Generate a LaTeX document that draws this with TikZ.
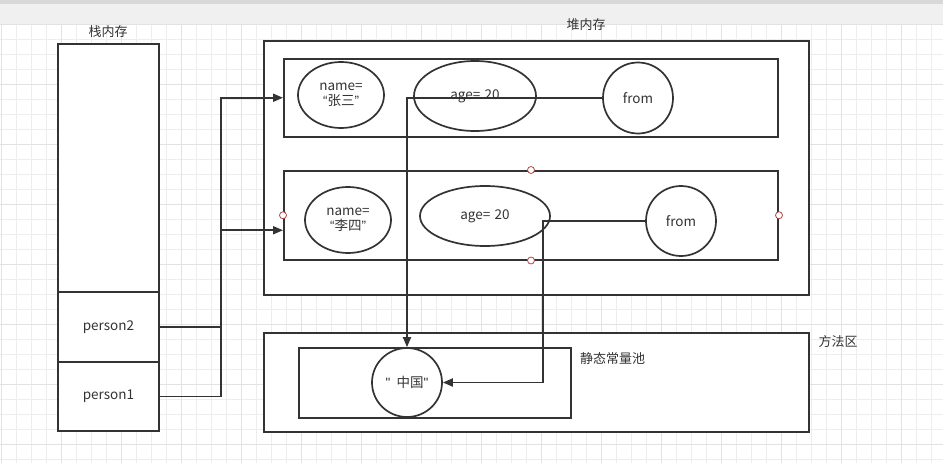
\documentclass[tikz,border=0pt]{standalone}
\usepackage{fontspec}
\setmainfont{Noto Sans CJK SC}
\newfontfamily\latf{Liberation Sans}
\usetikzlibrary{arrows.meta,shapes.geometric}
\definecolor{ln}{HTML}{333333}
\definecolor{gridminor}{HTML}{EDEDED}
\definecolor{gridmajor}{HTML}{E2E2E2}
\definecolor{handlec}{HTML}{B04848}
\begin{document}
\begin{tikzpicture}[x=1pt,y=-1pt,
  box/.style={draw=ln, line width=2pt, fill=white, inner sep=0pt, text=ln, font=\fontsize{13.5}{15}\selectfont},
  oval/.style={ellipse, draw=ln, line width=1.7pt, fill=white, inner sep=0pt, text=ln, align=center, font=\fontsize{13.5}{15.5}\selectfont},
  lbl/.style={text=ln, inner sep=0pt, font=\fontsize{13}{15}\selectfont},
  arr/.style={draw=ln, line width=1.8pt, -{Triangle[length=10pt,width=8pt]}},
  handle/.style={circle, draw=handlec, fill=white, line width=0.8pt, minimum size=7pt, inner sep=0pt}]
\useasboundingbox (0,0) rectangle (943,463);
% background
\fill[white] (0,0) rectangle (943,463);
\fill[black!15] (0,0) rectangle (943,4);
\fill[black!6] (0,4) rectangle (943,24);
\foreach \gx in {1,16,...,943} {\draw[gridminor, line width=1pt] (\gx,24) -- (\gx,463);}
\foreach \gy in {24,39,...,463} {\draw[gridminor, line width=1pt] (0,\gy) -- (943,\gy);}
\foreach \gx in {1,61,...,943} {\draw[gridmajor, line width=1pt] (\gx,24) -- (\gx,463);}
\foreach \gy in {24,84,...,463} {\draw[gridmajor, line width=1pt] (0,\gy) -- (943,\gy);}

% stack
\node[box, minimum width=101pt, minimum height=387pt] (stack) at (108.5,237.5) {};
\node[box, minimum width=101pt, minimum height=70pt] (p2) at (108.5,327) {person2};
\node[box, minimum width=101pt, minimum height=69pt] (p1) at (108.5,396.5) {person1};
\node[lbl] (stacklbl) at (108,32) {栈内存};

% heap
\node[box, minimum width=545pt, minimum height=254.5pt] (heap) at (536,167.75) {};
\node[lbl] (heaplbl) at (586,25) {堆内存};
\node[box, minimum width=494pt, minimum height=77.5pt] (obj1) at (531,97.75) {};
\node[box, minimum width=494pt, minimum height=88.5pt] (obj2) at (531,215.25) {};

\node[oval, minimum width=86pt, minimum height=66pt] (name1) at (341,95) {name=\\{\latf “}张三{\latf ”}};
\node[oval, minimum width=122pt, minimum height=70pt] (age1) at (475,96) {age=\,\,20};
\node[oval, minimum width=70pt, minimum height=71pt] (from1) at (638,98) {from};

\node[oval, minimum width=86pt, minimum height=66pt] (name2) at (348,220) {name=\\{\latf “}李四{\latf ”}};
\node[oval, minimum width=130pt, minimum height=60pt] (age2) at (485,216) {age=\,\,20};
\node[oval, minimum width=70pt, minimum height=70pt] (from2) at (681,221) {from};

% method area
\node[box, minimum width=545pt, minimum height=99pt] (method) at (536.5,382.5) {};
\node[lbl] (methodlbl) at (838,342) {方法区};
\node[box, minimum width=272pt, minimum height=70pt] (pool) at (435,383) {};
\node[lbl, anchor=west] (poollbl) at (580,359) {静态常量池};
\node[oval, minimum width=70pt, minimum height=69pt] (china) at (407,382.5) {{\latf "}\hspace{6pt}中国{\latf "}};

% connectors
\draw[arr] (p1.east) -- ++(61,0) |- (obj1.west);
\draw[arr] (p2.east) -- ++(61,0) |- ([yshift=-15pt]obj2.west);
\draw[arr] (from1.west) -| (china.north);
\draw[arr] (from2.west) -- ++(-102,0) |- (china.east);

% selection handles
\node[handle] (h1) at (obj2.north) {};
\node[handle] (h2) at (obj2.west) {};
\node[handle] (h3) at (obj2.east) {};
\node[handle] (h4) at (obj2.south) {};
\end{tikzpicture}
\end{document}
